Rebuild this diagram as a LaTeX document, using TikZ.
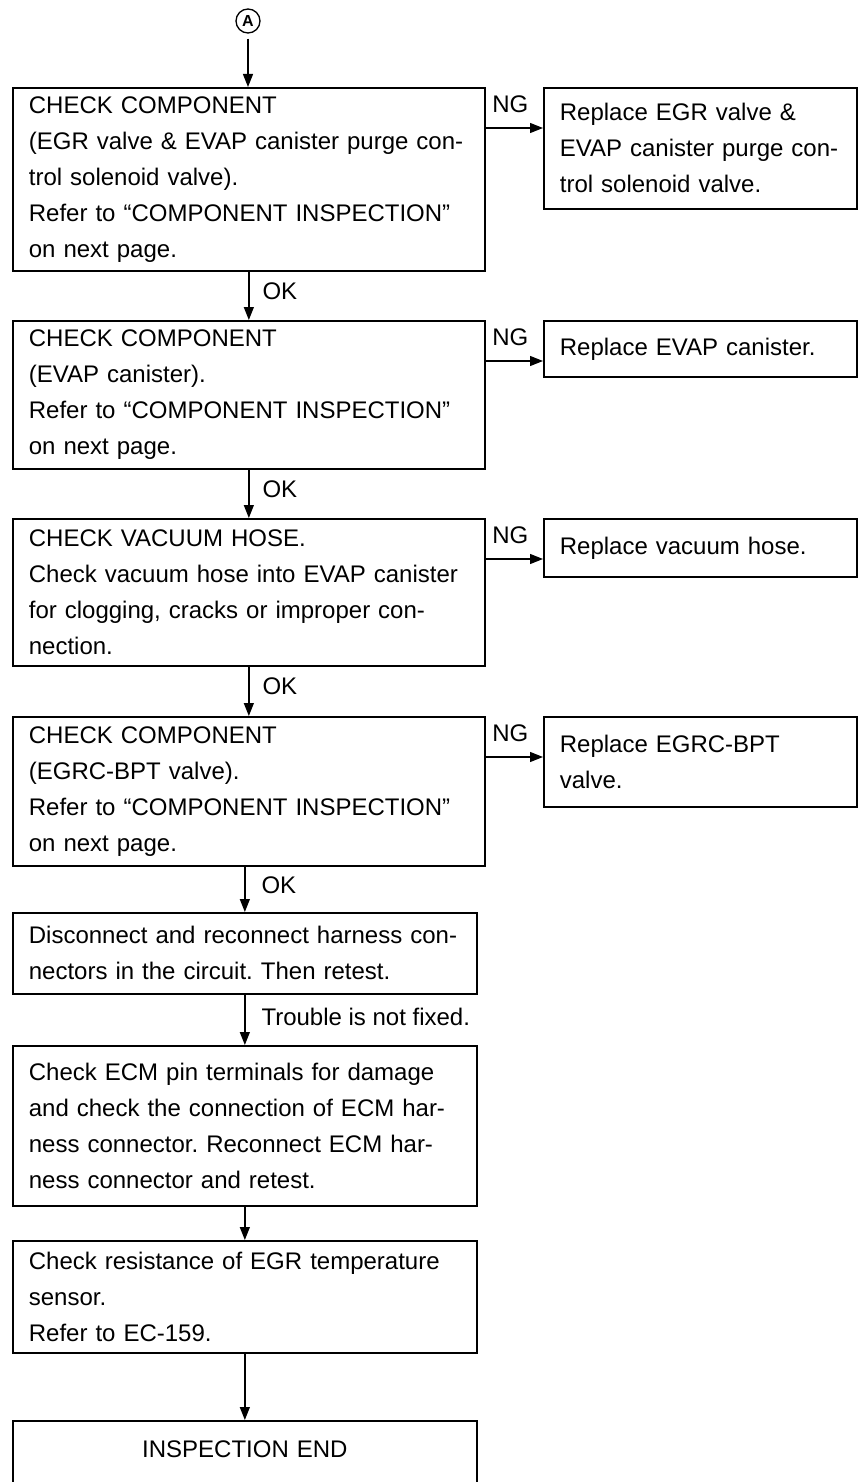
\documentclass[tikz,border=0pt]{standalone}
\usepackage{fontspec}
\setmainfont{Liberation Sans}
\usetikzlibrary{arrows.meta}
\frenchspacing
\begin{document}
\begin{tikzpicture}[x=1pt,y=-1pt,
  txt/.style={font=\fontsize{24}{36}\selectfont},
  box/.style={txt, draw, line width=1.7pt, rectangle, anchor=north west,
    inner xsep=16pt, inner ysep=0pt, align=left},
  flow/.style={line width=1.3pt, -{Triangle[length=13pt,width=10pt]}},
  lbl/.style={txt, inner sep=0pt}]
\useasboundingbox[fill=white] (0,0) rectangle (857,1482);

% start marker
\node[draw, circle, line width=1.3pt, minimum size=24pt, inner sep=0pt,
  font=\fontsize{16}{16}\selectfont\bfseries] (A) at (248,21) {A};

% main column
\node[box, minimum width=472pt, text width=440pt, minimum height=183pt] (b1) at (12,87)
  {CHECK COMPONENT\\(EGR valve \& EVAP canister purge con-\\trol solenoid valve).\\Refer to ``COMPONENT INSPECTION''\\on next page.};
\node[box, minimum width=472pt, text width=440pt, minimum height=148pt] (b2) at (12,320)
  {CHECK COMPONENT\\(EVAP canister).\\Refer to ``COMPONENT INSPECTION''\\on next page.};
\node[box, minimum width=472pt, text width=440pt, minimum height=147pt] (b3) at (12,518)
  {CHECK VACUUM HOSE.\\Check vacuum hose into EVAP canister\\for clogging, cracks or improper con-\\nection.};
\node[box, minimum width=472pt, text width=440pt, minimum height=149pt] (b4) at (12,716)
  {CHECK COMPONENT\\(EGRC-BPT valve).\\Refer to ``COMPONENT INSPECTION''\\on next page.};
\node[box, minimum width=464pt, text width=432pt, minimum height=81pt] (b5) at (12,912)
  {Disconnect and reconnect harness con-\\nectors in the circuit. Then retest.};
\node[box, minimum width=464pt, text width=432pt, minimum height=160pt] (b6) at (12,1045)
  {Check ECM pin terminals for damage\\and check the connection of ECM har-\\ness connector. Reconnect ECM har-\\ness connector and retest.};
\node[box, minimum width=464pt, text width=432pt, minimum height=112pt] (b7) at (12,1240)
  {Check resistance of EGR temperature\\sensor.\\Refer to EC-159.};
\node[box, minimum width=464pt, text width=432pt, minimum height=70pt, align=center,
  text depth=14pt] (b8) at (12,1420) {INSPECTION END};

% remedy column
\node[box, minimum width=313pt, text width=281pt, minimum height=121pt] (r1) at (543,87)
  {Replace EGR valve \&\\EVAP canister purge con-\\trol solenoid valve.};
\node[box, minimum width=313pt, text width=281pt, minimum height=56pt] (r2) at (543,320)
  {Replace EVAP canister.};
\node[box, minimum width=313pt, text width=281pt, minimum height=58pt] (r3) at (543,518)
  {Replace vacuum hose.};
\node[box, minimum width=313pt, text width=281pt, minimum height=90pt] (r4) at (543,716)
  {Replace EGRC-BPT\\valve.};

% NG branches
\foreach \i in {1,2,3,4} {
  \coordinate (n\i) at ([yshift=-41pt]b\i.north east);
  \draw[flow] (n\i) -- node[lbl, above=15pt, xshift=-4pt] (ng\i) {NG} (n\i -| r\i.west);
}

% OK path
\draw[flow, shorten <=5pt] (A) -- (A |- b1.north);
\draw[flow] (b1.south) -- node[lbl, pos=0.4, right=13pt] (ok1) {OK} (b2.north);
\draw[flow] (b2.south) -- node[lbl, pos=0.4, right=13pt] (ok2) {OK} (b3.north);
\draw[flow] (b3.south) -- node[lbl, pos=0.4, right=13pt] (ok3) {OK} (b4.north);
\draw[flow] (b4.south -| b5.north) -- node[lbl, pos=0.4, right=16pt] (ok4) {OK} (b5.north);
\draw[flow] (b5.south) -- node[lbl, pos=0.45, right=16pt] (tnf) {Trouble is not fixed.} (b6.north);
\draw[flow] (b6.south) -- (b7.north);
\draw[flow] (b7.south) -- (b8.north);
\end{tikzpicture}
\end{document}
